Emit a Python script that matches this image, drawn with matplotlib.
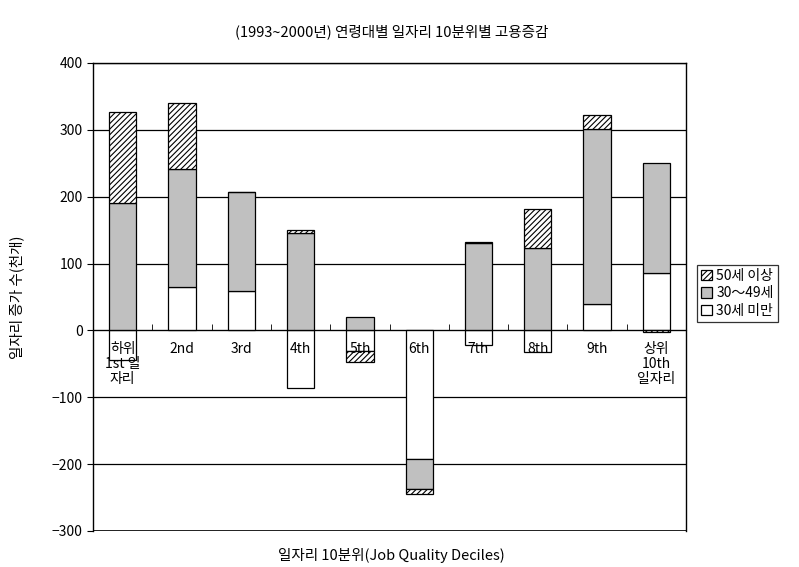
import numpy as np
import matplotlib.pyplot as plt

plt.rcParams['font.family'] = ['Noto Sans CJK KR', 'DejaVu Sans']
plt.rcParams['hatch.linewidth'] = 0.8

deciles = ['하위\n1st 일\n자리', '2nd', '3rd', '4th', '5th', '6th', '7th', '8th', '9th', '상위\n10th\n일자리']
under30 = [-44, 65, 59, -86, -31, -193, -22, -33, 40, 86]
age30_49 = [191, 177, 148, 146, 20, -44, 131, 123, 262, 164]
over50 = [135, 98, 0, 4, -16, -7, 2, 59, 20, -3]

series = [
    ('30세 미만', under30, dict(facecolor='white', hatch=None)),
    ('30～49세', age30_49, dict(facecolor='#c0c0c0', hatch=None)),
    ('50세 이상', over50, dict(facecolor='white', hatch='//////')),
]

fig = plt.figure(figsize=(7.99, 5.67), dpi=100)
ax = fig.add_axes([0.1164, 0.0635, 0.7422, 0.8254])

x = np.arange(len(deciles))
pos_base = np.zeros(len(x))
neg_base = np.zeros(len(x))
handles = []
for name, vals, style in series:
    vals = np.array(vals, dtype=float)
    base = np.where(vals >= 0, pos_base, neg_base)
    b = ax.bar(x, vals, 0.46, bottom=base, edgecolor='black', linewidth=0.9,
               label=name, zorder=1, **style)
    handles.append(b)
    pos_base += np.where(vals > 0, vals, 0)
    neg_base += np.where(vals < 0, vals, 0)

ax.set_xlim(-0.5, len(x) - 0.5)
ax.set_ylim(-300, 400)
yticks = np.arange(-300, 401, 100)
ax.set_yticks(yticks)
# horizontal grid behind the bars
for yv in yticks:
    ax.axhline(yv, color='black', linewidth=0.9, zorder=0.5)
ax.set_axisbelow(False)

# category axis crosses at zero
ax.spines['bottom'].set_position(('data', 0))
ax.axhline(-300, color='black', linewidth=1.2, zorder=2.5)
for s in ['left', 'right', 'top']:
    ax.spines[s].set_linewidth(1.0)
ax.set_xticks(x)
ax.set_xticklabels(deciles, fontsize=10, linespacing=1.1)
ax.set_xticks(np.arange(0.5, len(x) - 0.5, 1), minor=True)
ax.tick_params(axis='x', which='major', length=0, pad=8)
ax.tick_params(axis='x', which='minor', direction='in', length=4)
ax.tick_params(axis='y', direction='out', length=4, labelsize=10)

ax.set_ylabel('일자리 증가 수(천개)', fontsize=10.5, labelpad=20)
fig.text(0.49, 0.013, '일자리 10분위(Job Quality Deciles)', ha='center', fontsize=10.5)
fig.text(0.49, 0.937, '(1993~2000년) 연령대별 일자리 10분위별 고용증감', ha='center', fontsize=10.5)

leg = fig.legend(handles[::-1], [s[0] for s in series][::-1], loc='upper left',
                 bbox_to_anchor=(0.872, 0.533), frameon=True, fancybox=False,
                 edgecolor='black', fontsize=10, handlelength=0.8, handleheight=0.8,
                 handletextpad=0.3, borderpad=0.3, labelspacing=0.25, borderaxespad=0)
leg.get_frame().set_linewidth(0.9)

fig.savefig('out.png', dpi=100)
